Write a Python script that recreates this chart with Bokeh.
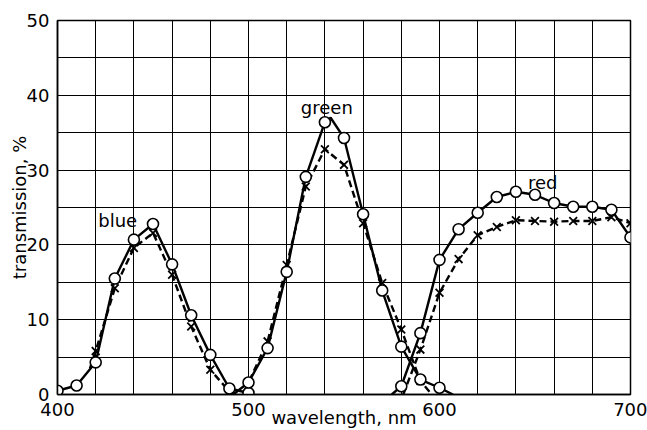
from bokeh.plotting import figure
from bokeh.models import FixedTicker, Label
from bokeh.embed import file_html
from bokeh.resources import INLINE

# Filter transmission curves: open circles = solid curves, crosses = dashed curves
blue_wl = [400, 410, 420, 430, 440, 450, 460, 470, 480, 490, 500]
blue_solid = [0.5, 1.2, 4.3, 15.5, 20.7, 22.8, 17.4, 10.6, 5.3, 0.8, 0.2]
blue_x_wl = [420, 430, 440, 450, 460, 470, 480, 490]
blue_dashed = [5.8, 14.2, 19.6, 21.6, 16.0, 9.1, 3.3, 0.4]
blue_dash_ends_wl = [417, 494]
blue_dash_ends = [3.5, 0.0]

green_wl = [500, 510, 520, 530, 540, 550, 560, 570, 580, 590, 600]
green_solid = [1.6, 6.2, 16.4, 29.1, 36.4, 34.3, 24.1, 13.9, 6.4, 2.0, 0.9]
green_solid_extra_wl = [492, 543, 607]
green_solid_extra = [0.0, 37.0, 0.0]
green_x_wl = [510, 520, 530, 540, 550, 560, 570, 580, 590]
green_dashed = [7.1, 17.3, 27.8, 32.8, 30.7, 22.9, 14.9, 8.7, 1.8]
green_dash_ends_wl = [498, 596]
green_dash_ends = [0.5, 0.0]

red_wl = [580, 590, 600, 610, 620, 630, 640, 650, 660, 670, 680, 690, 700]
red_solid = [1.1, 8.2, 18.0, 22.1, 24.3, 26.4, 27.1, 26.7, 25.6, 25.1, 25.1, 24.7, 21.0]
red_solid_extra_wl = [575]
red_solid_extra = [0.0]
red_x_wl = [590, 600, 610, 620, 630, 640, 650, 660, 670, 680, 690, 700]
red_dashed = [6.0, 13.6, 18.1, 21.3, 22.4, 23.3, 23.2, 23.1, 23.2, 23.2, 23.7, 22.9]
red_dash_ends_wl = [581]
red_dash_ends = [0.0]

x_ticks = [400, 500, 600, 700]
y_ticks = [0, 10, 20, 30, 40, 50]

FONT = "DejaVu Sans"


def trace(xs, ys, extra_x=(), extra_y=()):
    pts = sorted(zip(list(xs) + list(extra_x), list(ys) + list(extra_y)))
    return [a for a, _ in pts], [b for _, b in pts]


p = figure(width=647, height=430, x_range=(400, 700), y_range=(0, 50),
           output_backend="svg", toolbar_location=None,
           min_border_left=57, min_border_right=17, min_border_top=20,
           min_border_bottom=35)
p.background_fill_color = "white"
p.border_fill_color = "white"
p.outline_line_color = "black"
p.outline_line_width = 1.5

p.xaxis.ticker = FixedTicker(ticks=x_ticks)
p.yaxis.ticker = FixedTicker(ticks=y_ticks)
p.xgrid.ticker = FixedTicker(ticks=list(range(400, 701, 20)))
p.ygrid.ticker = FixedTicker(ticks=list(range(0, 51, 5)))
for g in (p.xgrid, p.ygrid):
    g.grid_line_color = "black"
    g.grid_line_alpha = 1.0
    g.grid_line_width = 1

for ax in (p.xaxis, p.yaxis):
    ax.major_tick_line_color = None
    ax.minor_tick_line_color = None
    ax.axis_line_color = "black"
    ax.axis_line_width = 1.5
    ax.major_label_text_font = FONT
    ax.major_label_text_font_size = "18px"
    ax.major_label_text_color = "black"
    ax.axis_label_text_font = FONT
    ax.axis_label_text_font_size = "18px"
    ax.axis_label_text_font_style = "normal"
    ax.axis_label_text_color = "black"
    ax.major_label_standoff = 2

p.xaxis.axis_label = "wavelength, nm"
p.xaxis.axis_label_standoff = -12
p.yaxis.axis_label = "transmission, %"
p.yaxis.axis_label_standoff = -6

LW = 2.4
# solid curves
for xs, ys, ex, ey in [(blue_wl, blue_solid, (), ()),
                       (green_wl, green_solid, green_solid_extra_wl, green_solid_extra),
                       (red_wl, red_solid, red_solid_extra_wl, red_solid_extra)]:
    tx, ty = trace(xs, ys, ex, ey)
    p.line(tx, ty, line_color="black", line_width=LW)

# dashed curves
for xs, ys, ex, ey in [(blue_x_wl, blue_dashed, blue_dash_ends_wl, blue_dash_ends),
                       (green_x_wl, green_dashed, green_dash_ends_wl, green_dash_ends),
                       (red_x_wl, red_dashed, red_dash_ends_wl, red_dash_ends)]:
    tx, ty = trace(xs, ys, ex, ey)
    p.line(tx, ty, line_color="black", line_width=LW, line_dash="7 4")

# markers
for xs, ys in [(blue_x_wl, blue_dashed), (green_x_wl, green_dashed), (red_x_wl, red_dashed)]:
    p.scatter(xs, ys, marker="x", size=11, line_color="black", line_width=1.8)
for xs, ys in [(blue_wl, blue_solid), (green_wl, green_solid), (red_wl, red_solid)]:
    p.scatter(xs, ys, marker="circle", size=11, fill_color="white",
              line_color="black", line_width=1.6)

for txt, x, y in [("blue", 431.5, 23.3), ("green", 541, 38.4), ("red", 654, 28.3)]:
    p.add_layout(Label(x=x, y=y, text=txt, text_font=FONT, text_font_size="18px",
                       text_align="center", text_baseline="middle",
                       text_color="black", background_fill_color=None))

open("out.html", "w").write(file_html(p, INLINE))
